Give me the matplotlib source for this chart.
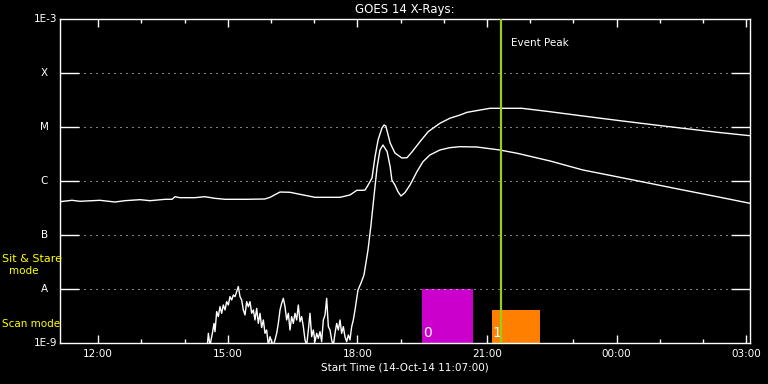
import matplotlib
matplotlib.use("Agg")
import matplotlib.pyplot as plt
from matplotlib.ticker import FixedLocator, NullFormatter

# ---- data (time in hours since 14-Oct-2014 00:00 UT, flux in W/m^2) ----
long_t = [11.117, 11.395, 11.58, 12.043, 12.39, 12.62, 12.97, 13.20, 13.55, 13.71,
          13.78, 13.89, 14.24, 14.47, 14.70, 14.94, 15.40, 15.86, 15.98, 16.21,
          16.44, 16.67, 17.02, 17.60, 17.83, 17.99, 18.11, 18.18, 18.25, 18.34,
          18.41, 18.48, 18.57, 18.62, 18.66, 18.76, 18.87, 19.03, 19.15, 19.27,
          19.45, 19.64, 19.91, 20.14, 20.38, 20.54, 21.07, 21.81, 22.46, 23.22,
          24.01, 24.77, 25.54, 26.33, 27.09]
long_f = [4.14e-7, 4.39e-7, 4.21e-7, 4.39e-7, 4.08e-7, 4.32e-7, 4.51e-7, 4.32e-7, 4.58e-7, 4.58e-7,
          5.12e-7, 4.91e-7, 4.91e-7, 5.12e-7, 4.78e-7, 4.58e-7, 4.58e-7, 4.64e-7, 4.99e-7, 6.25e-7,
          6.18e-7, 5.67e-7, 4.99e-7, 4.99e-7, 5.51e-7, 6.73e-7, 6.73e-7, 6.81e-7, 8.43e-7, 1.14e-6,
          2.82e-6, 5.74e-6, 9.58e-6, 1.09e-5, 1.04e-5, 5.06e-6, 3.30e-6, 2.67e-6, 2.70e-6, 3.49e-6,
          5.35e-6, 8.19e-6, 1.17e-5, 1.45e-5, 1.67e-5, 1.87e-5, 2.22e-5, 2.22e-5, 1.92e-5, 1.60e-5,
          1.33e-5, 1.12e-5, 9.46e-6, 7.98e-6, 6.90e-6]

short_t = [14.528, 14.551, 14.589, 14.651, 14.682, 14.705, 14.744, 14.782, 14.821, 14.860,
           14.898, 14.937, 14.975, 15.014, 15.052, 15.091, 15.130, 15.168, 15.207, 15.245,
           15.284, 15.322, 15.361, 15.400, 15.438, 15.477, 15.515, 15.554, 15.593, 15.631,
           15.670, 15.708, 15.747, 15.785, 15.824, 15.863, 15.901, 15.940, 15.978, 16.017,
           16.055, 16.094, 16.133, 16.171, 16.210, 16.248, 16.287, 16.326, 16.364, 16.403,
           16.441, 16.480, 16.518, 16.557, 16.596, 16.634, 16.673, 16.711, 16.750, 16.789,
           16.827, 16.866, 16.904, 16.943, 16.981, 17.020, 17.059, 17.097, 17.136, 17.174,
           17.213, 17.252, 17.290, 17.329, 17.367, 17.406, 17.444, 17.483, 17.522, 17.560,
           17.599, 17.637, 17.676, 17.714, 17.753, 17.792, 17.830, 17.869, 17.907, 17.946,
           18.015, 18.085, 18.154, 18.247, 18.316, 18.386, 18.455, 18.524, 18.594, 18.69,
           18.76, 18.80, 18.87, 18.94, 19.01, 19.10, 19.22, 19.38, 19.52, 19.68,
           19.91, 20.14, 20.38, 20.77, 21.30, 21.70, 22.46, 23.22, 24.01, 24.77,
           25.54, 26.33, 27.09]
short_f = [9.0e-10, 1.51e-9, 9.0e-10, 1.62e-9, 2.31e-9, 1.62e-9, 3.81e-9, 3.08e-9, 4.71e-9, 3.55e-9,
           5.06e-9, 4.09e-9, 5.83e-9, 5.06e-9, 7.22e-9, 6.26e-9, 7.75e-9, 7.22e-9, 8.93e-9, 1.11e-8,
           7.22e-9, 6.26e-9, 4.09e-9, 3.30e-9, 5.83e-9, 4.71e-9, 5.83e-9, 3.55e-9, 4.09e-9, 2.67e-9,
           4.38e-9, 2.31e-9, 3.55e-9, 1.93e-9, 2.67e-9, 1.51e-9, 1.74e-9, 9.0e-10, 1.31e-9, 1.06e-9,
           9.0e-10, 1.14e-9, 1.51e-9, 2.31e-9, 4.09e-9, 5.43e-9, 6.72e-9, 4.71e-9, 2.67e-9, 3.55e-9,
           1.74e-9, 3.08e-9, 2.31e-9, 3.55e-9, 2.67e-9, 5.06e-9, 2.48e-9, 3.08e-9, 2.01e-9, 1.14e-9,
           9.0e-10, 1.74e-9, 3.55e-9, 1.31e-9, 1.74e-9, 1.06e-9, 1.51e-9, 1.22e-9, 1.62e-9, 1.06e-9,
           2.67e-9, 3.30e-9, 6.72e-9, 2.01e-9, 1.74e-9, 1.14e-9, 9.0e-10, 1.51e-9, 2.31e-9, 1.74e-9,
           2.67e-9, 1.51e-9, 2.01e-9, 1.31e-9, 1.06e-9, 1.41e-9, 1.14e-9, 2.01e-9, 2.67e-9, 4.09e-9,
           9.58e-9, 1.29e-8, 1.82e-8, 5.27e-8, 1.53e-7, 5.28e-7, 1.74e-6, 3.75e-6, 4.64e-6, 3.49e-6,
           1.84e-6, 1.04e-6, 8.43e-7, 6.34e-7, 5.28e-7, 6.07e-7, 8.43e-7, 1.49e-6, 2.28e-6, 3.03e-6,
           3.75e-6, 4.14e-6, 4.32e-6, 4.26e-6, 3.75e-6, 3.26e-6, 2.35e-6, 1.60e-6, 1.20e-6, 9.06e-7,
           6.81e-7, 5.12e-7, 3.86e-7]

event_peak = 21.318
scan_labels = ["0", "1"]
scan_start = [19.497, 21.117]
scan_end = [20.677, 22.228]
scan_top = [1.0e-8, 4.08e-9]
scan_colors = ["#cc00cc", "#ff8000"]

x_ticks = [12, 15, 18, 21, 24, 27]
x_tick_labels = ["12:00", "15:00", "18:00", "21:00", "00:00", "03:00"]
y_levels = [1e-8, 1e-7, 1e-6, 1e-5, 1e-4]
y_level_labels = ["A", "B", "C", "M", "X"]
x_range = (11.117, 27.09)
y_range = (1e-9, 1e-3)

# ---- figure ----
fs = 7.5
fig = plt.figure(figsize=(7.68, 3.84), dpi=100, facecolor="black")
ax = fig.add_axes([60/768, 41/384, 690/768, 324/384], facecolor="black")
ax.set_yscale("log")
ax.set_xlim(*x_range)
ax.set_ylim(*y_range)

for s in ax.spines.values():
    s.set_color("white")
    s.set_linewidth(1.0)

# grid
for lv in y_levels:
    ax.axhline(lv, color="white", lw=0.72, ls=(0, (1, 5)), zorder=3)

# scan boxes
for lab, s0, s1, top, c in zip(scan_labels, scan_start, scan_end, scan_top, scan_colors):
    ax.bar(s0, top - y_range[0], width=s1 - s0, bottom=y_range[0], align="edge",
           color=c, lw=0, zorder=2)
    ax.text(s0 + 0.02, 1.55e-9, lab, color="white", fontsize=10, ha="left",
            va="center", zorder=4)

# curves
ax.plot(long_t, long_f, color="white", lw=1.0, zorder=5)
ax.plot(short_t, short_f, color="white", lw=1.0, zorder=5)

# event peak
ax.axvline(event_peak, color="#9acd1a", lw=1.6, zorder=6)
ax.text(event_peak + 0.25, 10**(-3.45), "Event Peak", color="white", fontsize=fs,
        ha="left", va="center")

# ticks
ax.xaxis.set_major_locator(FixedLocator(x_ticks))
ax.xaxis.set_minor_locator(FixedLocator(list(range(12, 28))))
ax.set_xticklabels(x_tick_labels)
ax.tick_params(axis="x", which="major", direction="in", length=6, width=1,
               color="white", labelcolor="white", labelsize=fs, top=True, pad=4)
ax.tick_params(axis="x", which="minor", direction="in", length=3, width=1,
               color="white", top=True)
ax.yaxis.set_major_locator(FixedLocator(y_levels))
ax.yaxis.set_minor_locator(FixedLocator([]))
ax.yaxis.set_major_formatter(NullFormatter())
ax.tick_params(axis="y", which="major", direction="in", length=14, width=1,
               color="white", left=True, right=True)

# y labels
tr = ax.get_yaxis_transform()
for lv, lab in zip(y_levels, y_level_labels):
    ax.text(-0.023, lv, lab, transform=tr, color="white", fontsize=fs,
            ha="center", va="center", clip_on=False)
ax.text(-0.004, 1e-3, "1E-3", transform=tr, color="white", fontsize=fs,
        ha="right", va="center", clip_on=False)
ax.text(-0.004, 1e-9, "1E-9", transform=tr, color="white", fontsize=fs,
        ha="right", va="center", clip_on=False)

# mode labels (figure coords)
fig.text(2/768, 1 - 259/384, "Sit & Stare", color="yellow", fontsize=8,
         ha="left", va="center")
fig.text(24/768, 1 - 271/384, "mode", color="yellow", fontsize=fs,
         ha="center", va="center")
fig.text(2/768, 1 - 324/384, "Scan mode", color="yellow", fontsize=fs,
         ha="left", va="center")

# title and x label
fig.text(405/768, 1 - 10/384, "GOES 14 X-Rays:", color="white", fontsize=8.5,
         ha="center", va="center")
fig.text(405/768, 1 - 368/384, "Start Time (14-Oct-14 11:07:00)", color="white",
         fontsize=fs, ha="center", va="center")

fig.savefig("out.png", dpi=100, facecolor="black")
